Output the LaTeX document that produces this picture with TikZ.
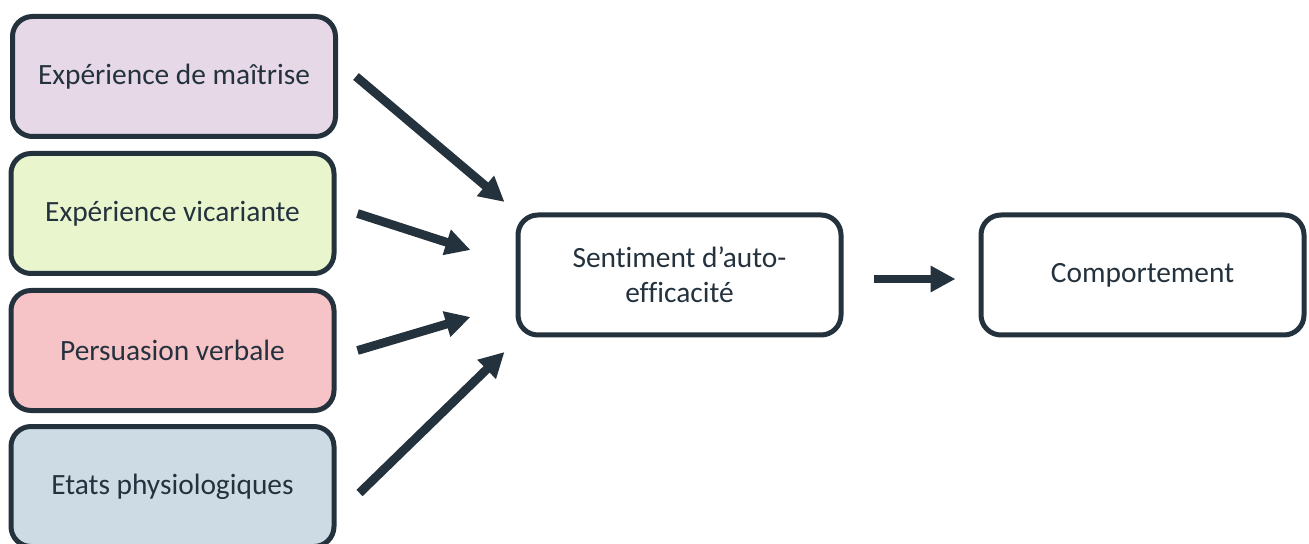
\documentclass[tikz,border=0pt]{standalone}
\usepackage{fontspec}
\setmainfont[Ligatures=NoCommon]{Carlito}
\usetikzlibrary{arrows.meta}

\definecolor{ink}{RGB}{36,50,62}
\definecolor{mauve}{RGB}{230,216,230}
\definecolor{lime}{RGB}{232,245,205}
\definecolor{rose}{RGB}{246,196,198}
\definecolor{steel}{RGB}{205,220,228}

\begin{document}
\begin{tikzpicture}[x=0.5pt, y=-0.5pt,
  box/.style={draw=ink, line width=2.5pt, rounded corners=10pt,
    minimum width=161.5pt, minimum height=60pt, align=center,
    text=ink, font=\fontsize{14.7}{17.5}\selectfont},
  arr/.style={draw=ink, line width=4.4pt,
    -{Triangle[length=12.5pt, width=12.5pt]}}]

\useasboundingbox (0,0) rectangle (1309,544);

% sources
\node[box, fill=mauve] (mastery) at (174,76.5) {Expérience de maîtrise};
\node[box, fill=lime]  (vicar)   at (172.5,213.5) {Expérience vicariante};
\node[box, fill=rose]  (persu)   at (172.5,350.5) {Persuasion verbale};
\node[box, fill=steel] (physio)  at (172.5,486.5) {Etats physiologiques};

% self-efficacy and behaviour
\node[box] (selfeff) at (679.5,275) {Sentiment d’auto-\\efficacité};
\node[box] (behav)   at (1142.5,275) {Comportement};

% arrow ends
\coordinate (s1) at ([shift={(18,0)}]mastery.east);
\coordinate (s2) at ([shift={(21,0)}]vicar.east);
\coordinate (s3) at ([shift={(21,0)}]persu.east);
\coordinate (s4) at ([shift={(23,6.5)}]physio.east);
\coordinate (t1) at ([shift={(-11,-73)}]selfeff.west);
\coordinate (t2) at ([shift={(-45,-25)}]selfeff.west);
\coordinate (t3) at ([shift={(-45,42)}]selfeff.west);
\coordinate (t4) at ([shift={(-11,77)}]selfeff.west);
\coordinate (s5) at ([shift={(30,4)}]selfeff.east);
\coordinate (t5) at ([shift={(-23,4)}]behav.west);

\draw[arr] (s1) -- (t1);
\draw[arr] (s2) -- (t2);
\draw[arr] (s3) -- (t3);
\draw[arr] (s4) -- (t4);
\draw[arr] (s5) -- (t5);

\end{tikzpicture}
\end{document}
